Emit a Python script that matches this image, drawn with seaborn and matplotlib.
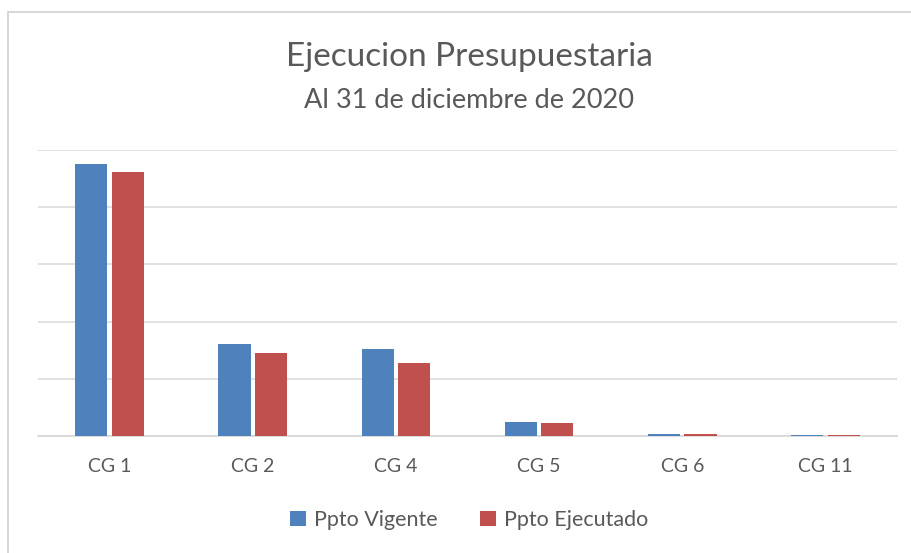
import matplotlib

matplotlib.use("Agg")
import matplotlib.pyplot as plt
import pandas as pd
import seaborn as sns
from matplotlib.patches import Rectangle

CATEGORIES = ["CG 1", "CG 2", "CG 4", "CG 5", "CG 6", "CG 11"]
SERIES = ["Ppto Vigente", "Ppto Ejecutado"]
VIGENTE = [4.76, 1.60, 1.52, 0.24, 0.035, 0.018]
EJECUTADO = [4.61, 1.45, 1.28, 0.22, 0.033, 0.015]
COLORS = ["#4F81BD", "#C0504D"]
TEXT = "#595959"
GRID = "#D9D9D9"

df = pd.DataFrame({
    "cat": CATEGORIES * 2,
    "serie": [SERIES[0]] * len(CATEGORIES) + [SERIES[1]] * len(CATEGORIES),
    "valor": VIGENTE + EJECUTADO,
})

sns.set_style("white")
plt.rcParams["font.family"] = ["Lato", "DejaVu Sans"]

fig = plt.figure(figsize=(9.12, 5.53), dpi=100)
ax = fig.add_axes([38 / 912, 1 - 436 / 553, (897 - 38) / 912, (436 - 150) / 553])

sns.barplot(data=df, x="cat", y="valor", hue="serie", order=CATEGORIES,
            hue_order=SERIES, palette=COLORS, width=0.51, gap=0.12,
            saturation=1, linewidth=0, ax=ax, zorder=3)

ax.set_ylim(0, 5)
ax.set_yticks(range(6))
ax.set_yticklabels([])
ax.tick_params(axis="y", length=0)
ax.tick_params(axis="x", length=0, labelsize=14, labelcolor=TEXT, pad=16)
ax.grid(axis="y", color=GRID, linewidth=1.1, zorder=0)
ax.set_xlabel("")
ax.set_ylabel("")
for side in ["top", "right", "left"]:
    ax.spines[side].set_visible(False)
ax.spines["bottom"].set_color(GRID)
ax.spines["bottom"].set_linewidth(1.3)
ax.spines["bottom"].set_zorder(2)
ax.set_xlim(-0.5, len(CATEGORIES) - 0.5)

handles, labels = ax.get_legend_handles_labels()
ax.get_legend().remove()
fig.legend(handles, labels, loc="center", bbox_to_anchor=(469 / 912, 1 - 520 / 553),
           ncol=2, frameon=False, fontsize=15.5, labelcolor=TEXT,
           handlelength=0.75, handleheight=0.75, handletextpad=0.35, columnspacing=2.0)

fig.text(469 / 912, 1 - 57 / 553, "Ejecucion Presupuestaria", ha="center", va="center",
         fontsize=24, color=TEXT)
fig.text(469 / 912, 1 - 100 / 553, "Al 31 de diciembre de 2020", ha="center", va="center",
         fontsize=19.5, color=TEXT)

fig.patches.append(Rectangle((8 / 912, -0.05), 1.1, 1 - 12.5 / 553 + 0.05,
                             transform=fig.transFigure, fill=False,
                             edgecolor="#D0D0D0", linewidth=1.2))

fig.savefig("out.png", dpi=100)
